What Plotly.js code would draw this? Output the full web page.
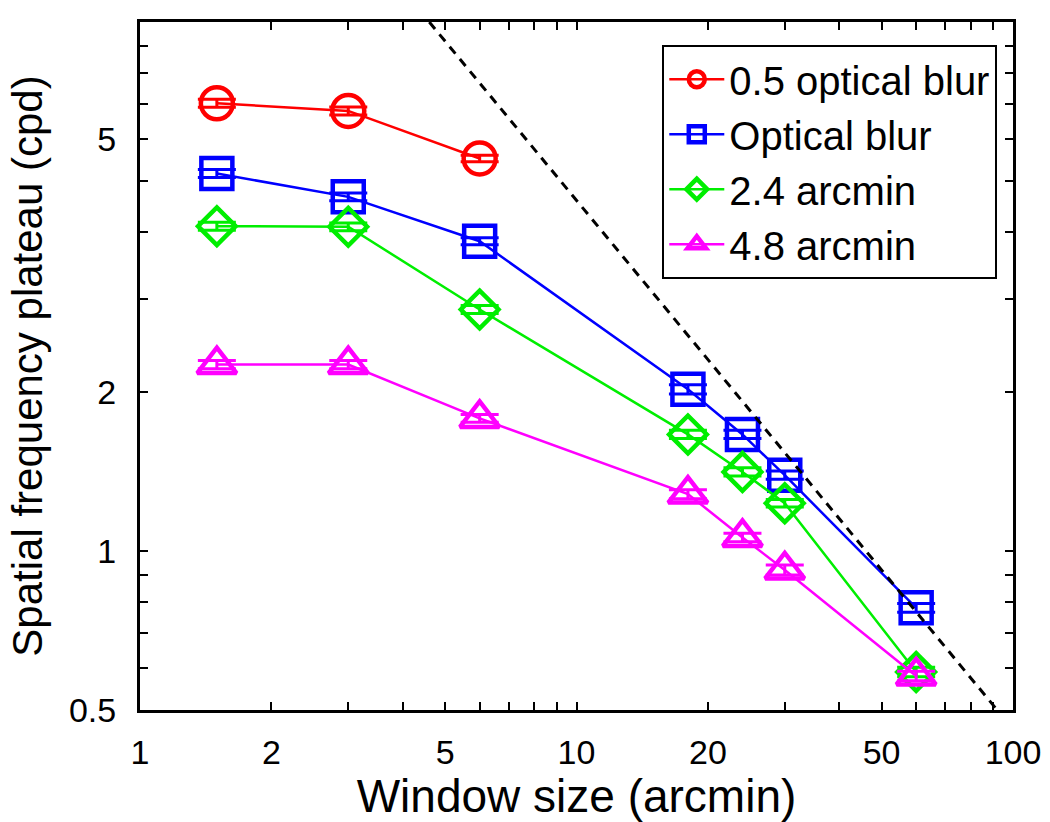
<!DOCTYPE html>
<html>
<head>
<meta charset="utf-8">
<script src="https://cdn.plot.ly/plotly-3.0.1.min.js"></script>
<style>html,body{margin:0;padding:0;background:#fff;}#chart{width:1050px;height:822px;}</style>
</head>
<body>
<div id="chart"></div>
<script>
// Window sizes (arcmin)
const windowSize = [1.5, 3, 6, 18, 24, 30, 60];
const windowSizeRed = [1.5, 3, 6];

// Spatial frequency plateau (cpd)
const halfOpticalBlur = [7.02, 6.79, 5.52];
const halfOpticalBlurErr = [0.12, 0.12, 0.08];
const opticalBlur = [5.17, 4.67, 3.85, 2.02, 1.66, 1.39, 0.78];
const opticalBlurErr = [0.09, 0.08, 0.06, 0.04, 0.03, 0.025, 0.015];
const arcmin24 = [4.11, 4.10, 2.86, 1.66, 1.41, 1.23, 0.59];
const arcmin24Err = [0.07, 0.07, 0.05, 0.03, 0.025, 0.02, 0.012];
const arcmin48 = [2.25, 2.25, 1.78, 1.28, 1.06, 0.92, 0.58];
const arcmin48Err = [0.04, 0.04, 0.03, 0.025, 0.02, 0.02, 0.012];

// Dashed reference line endpoints
const refX = [4.6, 92];
const refY = [10, 0.5];

const seriesNames = ['0.5 optical blur', 'Optical blur', '2.4 arcmin', '4.8 arcmin'];

// Tick labels
const xTickVals = [1,2,3,4,5,6,7,8,9,10,20,30,40,50,60,70,80,90,100];
const xTickText = ['1','2','','','5','','','','','10','20','','','50','','','','','100'];
const yTickVals = [0.5,0.6,0.7,0.8,0.9,1,2,3,4,5,6,7,8,9,10];
const yTickText = ['0.5','','','','','1','2','','','','5','','','',''];

function series(x, y, err, name, color, symbol, size) {
  return {
    type: 'scatter', mode: 'lines+markers', name: name,
    x: x, y: y,
    error_y: {type: 'data', array: err, visible: true, color: color, thickness: 3, width: 19},
    line: {color: color, width: 2.5},
    marker: {symbol: symbol, size: size, color: color, line: {color: color, width: 4.5}}
  };
}

const traces = [
  series(windowSizeRed, halfOpticalBlur, halfOpticalBlurErr, seriesNames[0], '#ff0000', 'circle-open', 32),
  series(windowSize, opticalBlur, opticalBlurErr, seriesNames[1], '#0000ff', 'square-open', 31),
  series(windowSize, arcmin24, arcmin24Err, seriesNames[2], '#00ee00', 'diamond-open', 29),
  series(windowSize, arcmin48, arcmin48Err, seriesNames[3], '#ff00ff', 'triangle-up-open', 34),
  {type: 'scatter', mode: 'lines', x: refX, y: refY, showlegend: false, hoverinfo: 'skip',
   line: {color: '#000', width: 3, dash: '9px,7px'}}
];

const fontFam = 'Liberation Sans, Arial, Helvetica, sans-serif';

const layout = {
  width: 1050, height: 822,
  margin: {l: 140, r: 37, t: 22, b: 112},
  paper_bgcolor: '#fff', plot_bgcolor: '#fff',
  font: {family: fontFam, color: '#000'},
  showlegend: true,
  legend: {
    x: 0.982, y: 0.967, xanchor: 'right', yanchor: 'top',
    bordercolor: '#000', borderwidth: 2, bgcolor: '#fff',
    font: {size: 40, family: fontFam, color: '#000'},
    tracegroupgap: 0, itemwidth: 55
  },
  xaxis: {
    type: 'log', range: [0, 2],
    tickmode: 'array', tickvals: xTickVals, ticktext: xTickText,
    ticks: 'inside', ticklen: 8, tickwidth: 2, tickcolor: '#000',
    showline: true, linecolor: '#000', linewidth: 3, mirror: 'allticks',
    showgrid: false, zeroline: false,
    tickfont: {size: 34, family: fontFam, color: '#000'},
    ticklabelstandoff: 10,
    title: {text: 'Window size (arcmin)', font: {size: 46, family: fontFam, color: '#000'}, standoff: 12}
  },
  yaxis: {
    type: 'log', range: [Math.log10(0.5), 1],
    tickmode: 'array', tickvals: yTickVals, ticktext: yTickText,
    ticks: 'inside', ticklen: 8, tickwidth: 2, tickcolor: '#000',
    showline: true, linecolor: '#000', linewidth: 3, mirror: 'allticks',
    showgrid: false, zeroline: false,
    tickfont: {size: 34, family: fontFam, color: '#000'},
    ticklabelstandoff: 14,
    title: {text: 'Spatial frequency plateau (cpd)', font: {size: 42, family: fontFam, color: '#000'}, standoff: 14}
  }
};

Plotly.newPlot('chart', traces, layout, {displayModeBar: false, staticPlot: true});
</script>
</body>
</html>
